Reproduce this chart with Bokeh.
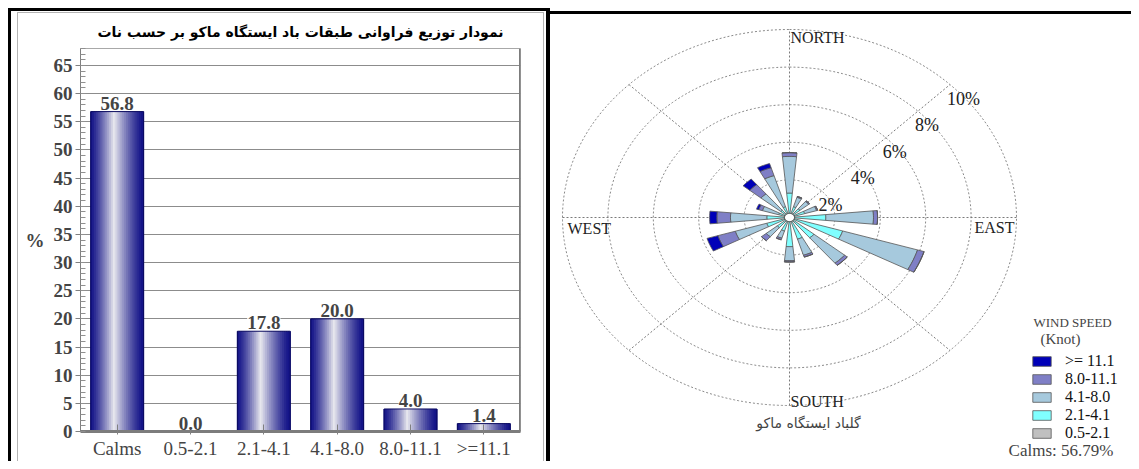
import numpy as np
from bokeh.plotting import figure
from bokeh.models import (ColumnDataSource, LabelSet, Label, Span, FixedTicker,
                          SingleIntervalTicker, Range1d, Legend, LegendItem)
from bokeh.layouts import row, column
from bokeh.embed import file_html
from bokeh.resources import INLINE

# ---------------- left chart: frequency of wind-speed classes (%)
speed_classes = ["Calms", "0.5-2.1", "2.1-4.1", "4.1-8.0", "8.0-11.1", ">=11.1"]
class_freq = [56.8, 0.0, 17.8, 20.0, 4.0, 1.4]
bar_title = "نمودار توزیع فراوانی طبقات باد ایستگاه ماکو بر حسب نات"

# ---------------- right chart: wind rose, % per direction and speed bin (knot)
directions = ["N", "NNE", "NE", "ENE", "E", "ESE", "SE", "SSE",
              "S", "SSW", "SW", "WSW", "W", "WNW", "NW", "NNW"]
bearings = [0, 22.5, 45, 67.5, 90, 112.5, 135, 157.5,
            180, 202.5, 225, 247.5, 270, 292.5, 315, 337.5]
pct_05_21 = [0.0, 0.0, 0.0, 0.0, 0.0, 0.0, 0.0, 0.0, 0.0, 0.0, 0.0, 0.0, 0.0, 0.0, 0.0, 0.0]
pct_21_41 = [1.30, 0.60, 0.60, 0.70, 1.60, 2.45, 1.40, 1.20, 1.55, 0.75, 0.70, 1.05, 1.00, 0.50, 0.50, 0.60]
pct_41_80 = [1.95, 0.52, 0.50, 0.55, 2.10, 3.45, 1.75, 0.90, 0.75, 0.40, 0.63, 1.45, 1.60, 0.75, 1.13, 1.73]
pct_80_111 = [0.20, 0.05, 0.05, 0.05, 0.18, 0.30, 0.15, 0.10, 0.07, 0.09, 0.27, 0.80, 0.60, 0.17, 0.64, 0.44]
pct_111 = [0.0, 0.0, 0.0, 0.0, 0.0, 0.0, 0.0, 0.0, 0.0, 0.0, 0.0, 0.50, 0.32, 0.10, 0.38, 0.23]
bin_labels = ["0.5-2.1", "2.1-4.1", "4.1-8.0", "8.0-11.1", ">= 11.1"]
bin_colors = ["#c0c0c0", "#80ffff", "#a6c9dd", "#7f7fc6", "#0000b8"]
ring_levels = [2, 4, 6, 8, 10]
compass = ["NORTH", "EAST", "SOUTH", "WEST"]
calms_pct = 56.79
rose_title = "گلباد ایستگاه ماکو"
legend_title = ["WIND SPEED", "(Knot)"]

SERIF = "Liberation Serif"
PERSIAN = "DejaVu Sans"

# =====================================================================
# Left: bar chart
n = len(speed_classes)
centers = [i + 0.5 for i in range(n)]
p1 = figure(width=525, height=448, x_range=Range1d(0, n), y_range=Range1d(0, 68),
            output_backend="svg", toolbar_location=None,
            min_border_left=62, min_border_right=23, min_border_top=33, min_border_bottom=28)
p1.margin = (13, 7, 0, 18)
p1.styles = {"box-shadow": ("0 0 0 1px #b4b4b4, -2px 3px 0 5px #ffffff, "
                            "-2px 15px 0 5px #ffffff, -1.5px 3.5px 0 8.5px #000000"),
             "clip-path": "inset(-12px -12px 0px -12px)"}
p1.outline_line_color = "#a8a8a8"
p1.background_fill_color = "white"
p1.border_fill_color = "white"

p1.title.text = bar_title
p1.title.align = "center"
p1.title.text_font = PERSIAN
p1.title.text_font_size = "14px"
p1.title.text_font_style = "bold"
p1.title.text_color = "#000000"
p1.title.standoff = 17

K = 28
bw = 0.72
dark = np.array([18, 18, 135])
light = np.array([232, 232, 238])
sx, stop, scol = [], [], []
for c, v in zip(centers, class_freq):
    for k in range(K):
        t = (k + 0.5) / K
        l = (t / 0.45) ** 1.3 if t < 0.45 else ((1 - t) / 0.55) ** 1.3
        rgb = dark + (light - dark) * l
        sx.append(c - bw / 2 + t * bw)
        stop.append(v)
        scol.append("#%02x%02x%02x" % tuple(int(round(q)) for q in rgb))
p1.vbar(x=sx, top=stop, bottom=0, width=bw / K * 1.6, fill_color=scol, line_color=None)
p1.vbar(x=centers, top=class_freq, bottom=0, width=bw, fill_color=None,
        line_color="#0b0b60", line_width=1)

src = ColumnDataSource(dict(x=centers, y=class_freq, t=[f"{v:.1f}" for v in class_freq]))
p1.add_layout(LabelSet(x="x", y="y", text="t", source=src, text_align="center",
                       text_baseline="bottom", y_offset=2, text_font=SERIF,
                       text_font_style="bold", text_font_size="19px",
                       background_fill_color="white"))

yax = p1.yaxis[0]
yt = SingleIntervalTicker(interval=5, num_minor_ticks=5)
yax.ticker = yt
yax.axis_label = "%"
yax.axis_label_orientation = "horizontal"
yax.axis_label_text_font = SERIF
yax.axis_label_text_font_style = "bold"
yax.axis_label_text_font_size = "19px"
yax.axis_label_standoff = 6
yax.major_label_text_font = SERIF
yax.major_label_text_font_style = "bold"
yax.major_label_text_font_size = "19px"
yax.major_label_standoff = 3
yax.axis_line_color = "#808080"
yax.major_tick_line_color = "#808080"
yax.minor_tick_line_color = "#909090"
yax.major_tick_out = 5
yax.major_tick_in = 0
yax.minor_tick_in = 5
yax.minor_tick_out = 0
p1.ygrid.ticker = yt
p1.ygrid.grid_line_color = "#8c8c8c"
p1.xgrid.visible = False

xax = p1.xaxis[0]
xax.ticker = FixedTicker(ticks=centers)
xax.major_label_overrides = {c: s for c, s in zip(centers, speed_classes)}
xax.major_label_text_font = SERIF
xax.major_label_text_font_size = "19px"
xax.major_label_standoff = 3
xax.axis_line_color = "#7c7c7c"
xax.axis_line_width = 3
xax.major_tick_line_color = "#808080"
xax.major_tick_in = 7
xax.major_tick_out = 3
xax.minor_tick_line_color = None
p1.add_layout(Span(location=n, dimension="height", line_color="#7c7c7c", line_width=3))

# =====================================================================
# Right: wind rose
W2, H2 = 581, 447
cx_px, cy_px = 239, 203
kx, ky = 22.7, 18.8
p2 = figure(width=W2, height=H2, title=None,
            x_range=Range1d(-cx_px / kx, (W2 - cx_px) / kx),
            y_range=Range1d(-(H2 - cy_px) / ky, cy_px / ky),
            output_backend="svg", toolbar_location=None,
            min_border=0, min_border_left=0, min_border_right=0,
            min_border_top=0, min_border_bottom=0,
            x_axis_type=None, y_axis_type=None)
p2.outline_line_color = None
p2.border_fill_color = "white"
p2.xgrid.visible = False
p2.ygrid.visible = False
p2.margin = (14, 0, 0, 0)
p2.styles = {"box-shadow": "0 -3px 0 0 #000000"}

has_align = "frame_align" in p1.properties()
if has_align:
    p1.frame_align = False
    p2.frame_align = False

rmax = ring_levels[-1]
phi = np.linspace(0, 2 * np.pi, 361)
p2.multi_line(xs=[list(r * np.sin(phi)) for r in ring_levels],
              ys=[list(r * np.cos(phi)) for r in ring_levels],
              line_color="#8a8a8a", line_dash="2 2", line_width=1)
spokes = np.deg2rad([0, 45, 90, 135])
p2.multi_line(xs=[[-rmax * np.sin(a), rmax * np.sin(a)] for a in spokes],
              ys=[[-rmax * np.cos(a), rmax * np.cos(a)] for a in spokes],
              line_color="#7a7a7a", line_dash="2 2", line_width=1)

for r in ring_levels:
    a = np.deg2rad(45)
    p2.add_layout(Label(x=r * np.sin(a), y=r * np.cos(a), text=f"{r}%",
                        text_align="left", text_baseline="top", x_offset=-3, y_offset=-4,
                        text_font=SERIF, text_font_size="18px", text_color="#202020"))

half = np.deg2rad(5.5)
cum = np.zeros(len(bearings))
renderers = {}
for lab, vals, col in zip(bin_labels, [pct_05_21, pct_21_41, pct_41_80, pct_80_111, pct_111], bin_colors):
    xs_l, ys_l = [], []
    for j, b in enumerate(bearings):
        r0 = cum[j]
        r1 = cum[j] + vals[j]
        th = np.deg2rad(b) + np.linspace(-half, half, 7)
        xs_l.append(list(np.concatenate([r1 * np.sin(th), r0 * np.sin(th[::-1])])))
        ys_l.append(list(np.concatenate([r1 * np.cos(th), r0 * np.cos(th[::-1])])))
    renderers[lab] = p2.patches(xs_l, ys_l, fill_color=col, line_color="#555555", line_width=0.8)
    cum += np.array(vals)

hole = 0.22
p2.patch(list(hole * np.sin(phi)), list(hole * np.cos(phi)), fill_color="white",
         line_color="#333333", line_width=1)

cfont = dict(text_font=SERIF, text_font_size="16px", text_color="#222222")
p2.add_layout(Label(x=0, y=rmax, text=compass[0], text_align="left", text_baseline="top",
                    x_offset=1, y_offset=1, **cfont))
p2.add_layout(Label(x=rmax, y=0, text=compass[1], text_align="right", text_baseline="top",
                    x_offset=-2, y_offset=-1, **cfont))
p2.add_layout(Label(x=0, y=-rmax, text=compass[2], text_align="left", text_baseline="alphabetic",
                    x_offset=1, y_offset=4, **cfont))
p2.add_layout(Label(x=-rmax, y=0, text=compass[3], text_align="left", text_baseline="top",
                    x_offset=5, y_offset=-2, **cfont))

items = [LegendItem(label=lab, renderers=[renderers[lab]]) for lab in bin_labels[::-1]]
leg = Legend(items=items, location=(480, 19), orientation="vertical",
             border_line_color=None, background_fill_alpha=0, padding=0, margin=0,
             spacing=0, glyph_width=23, glyph_height=12, label_standoff=12,
             label_height=16, label_text_font=SERIF, label_text_font_size="16px",
             label_text_color="#111111")
p2.add_layout(leg)

p2.add_layout(Label(x=12.47, y=-5.58, text=legend_title[0], text_align="center",
                    text_baseline="middle", text_font=SERIF, text_font_size="13px"))
p2.add_layout(Label(x=11.94, y=-6.47, text=legend_title[1], text_align="center",
                    text_baseline="middle", text_font=SERIF, text_font_size="15px"))
p2.add_layout(Label(x=9.65, y=-12.37, text=f"Calms: {calms_pct:.2f}%", text_align="left",
                    text_baseline="middle", text_font=SERIF, text_font_size="17px"))
p2.add_layout(Label(x=0.84, y=-10.95, text=rose_title, text_align="center",
                    text_baseline="middle", text_font=PERSIAN, text_font_size="14px"))

if has_align:
    layout = row(p1, p2)
else:
    layout = row(p1, column(p2))
open("out.html", "w").write(file_html(layout, INLINE))
